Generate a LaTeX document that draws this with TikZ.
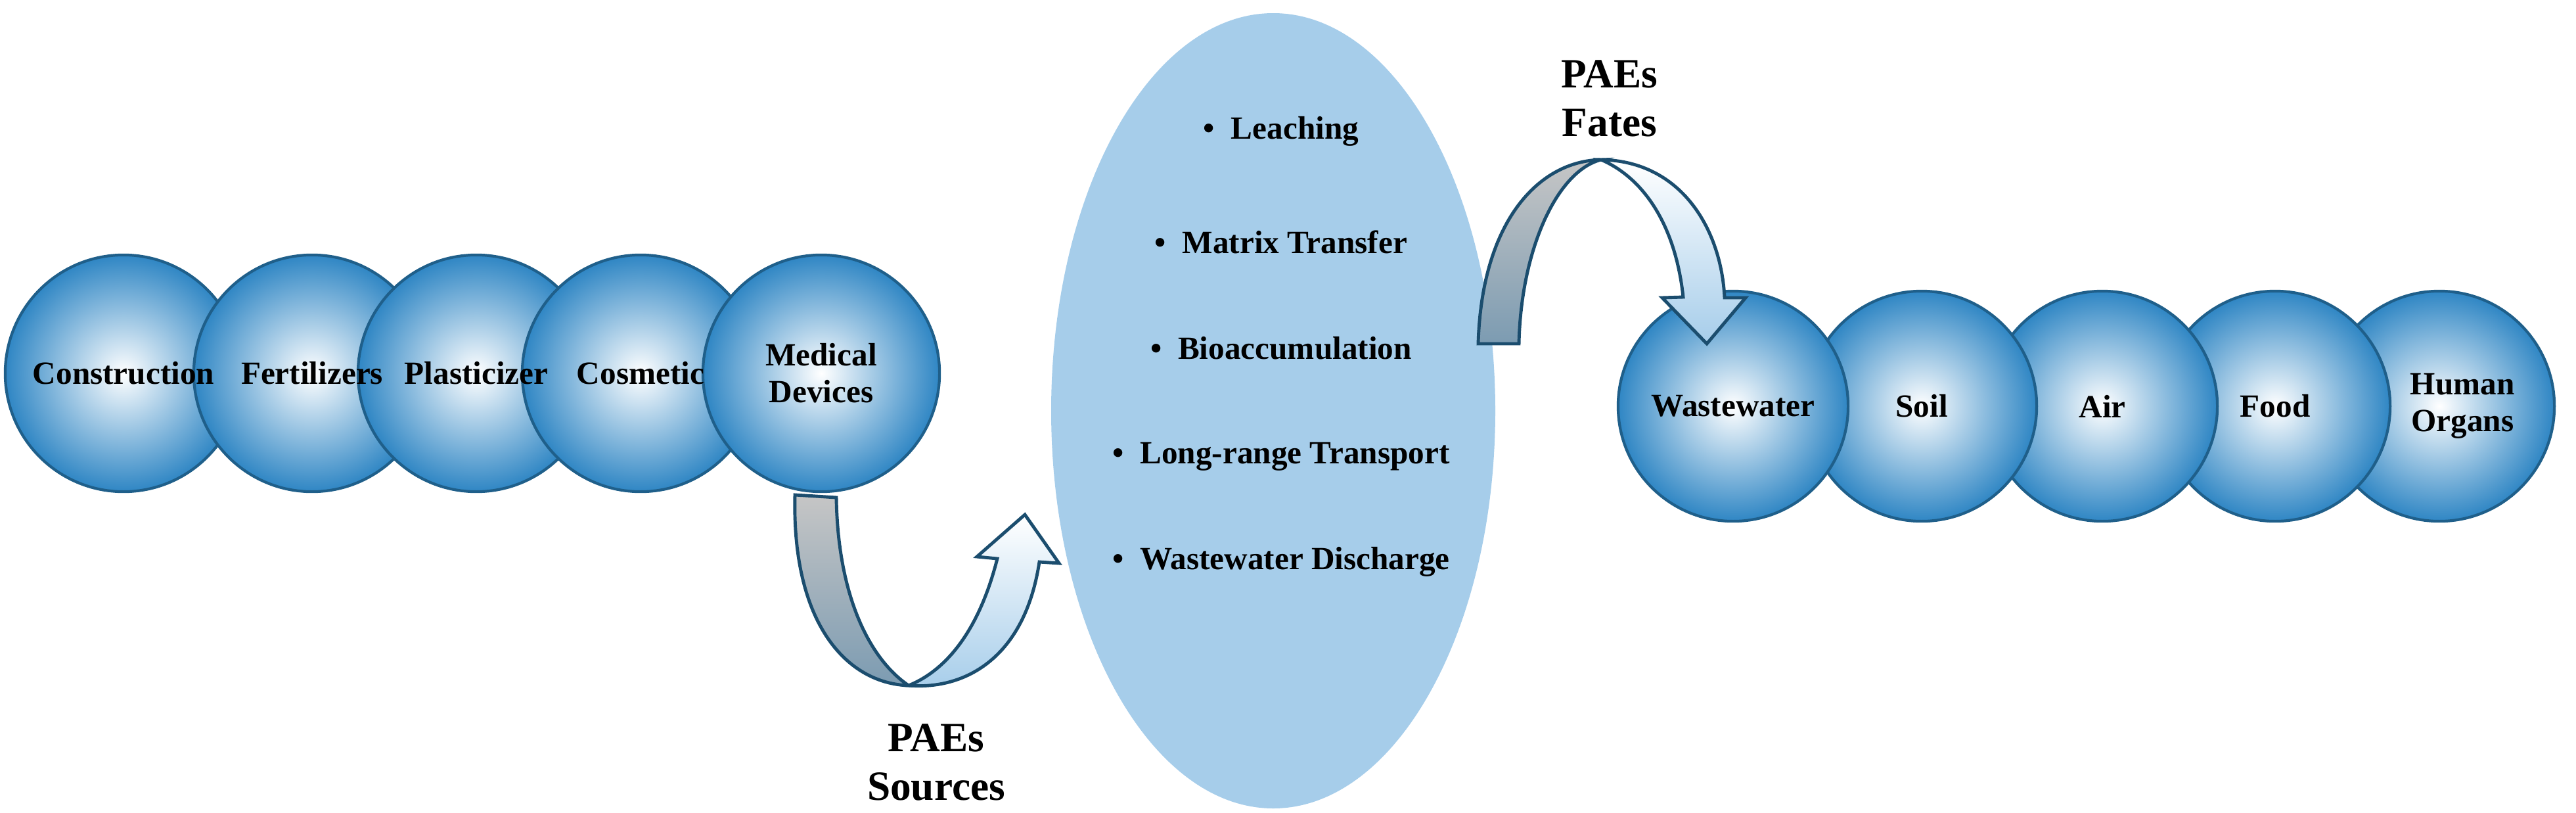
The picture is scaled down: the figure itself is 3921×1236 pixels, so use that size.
\documentclass[tikz,border=0pt]{standalone}
\usepackage{fontspec}
\setmainfont{Liberation Serif}
\usetikzlibrary{positioning}
\definecolor{ballEdge}{HTML}{1F5F8A}
\definecolor{ballBlue}{HTML}{2F86C4}
\definecolor{cloudBlue}{HTML}{A6CDEA}
\definecolor{arrowEdge}{HTML}{1B4D6E}
\begin{document}
\begin{tikzpicture}[x=0.01cm,y=-0.01cm]
\tikzstyle{every node}=[font=\bfseries\fontsize{14}{16}\selectfont]
\tikzstyle{ball}=[circle,minimum size=3.6cm,draw=ballEdge,line width=1.2pt,inner sep=0pt,
  shading=radial,inner color=white,outer color=ballBlue]
\tikzstyle{item}=[align=center,inner sep=1pt]
\tikzstyle{band}=[draw=arrowEdge,line width=1.4pt,line join=miter]
\useasboundingbox (0,0) rectangle (3921,1236);

% cloud of processes
\fill[cloudBlue] (1938,625) ellipse [x radius=338,y radius=605];
\node[item] (leach) at (1950,200) {\textbullet\ \ Leaching};
\node[item] (matrix) at (1950,368) {\textbullet\ \ Matrix Transfer};
\node[item] (bio) at (1950,530) {\textbullet\ \ Bioaccumulation};
\node[item] (long) at (1950,695) {\textbullet\ \ Long-range Transport};
\node[item] (disch) at (1950,855) {\textbullet\ \ Wastewater Discharge};

% sources
\node[ball] (constr) at (188,568) {};
\node[ball] (fert) at (475,568) {};
\node[ball] (plast) at (725,568) {};
\node[ball] (cosm) at (975,568) {};
\node[ball] (med) at (1250,568) {};
\node[item] at (constr) {Construction};
\node[item] at (fert) {Fertilizers};
\node[item] at (plast) {Plasticizer};
\node[item] at (cosm) {Cosmetic};
\node[item] at (med) {Medical\\Devices};

% fates
\node[ball,minimum size=3.5cm] (organs) at (3713,618) {};
\node[ball,minimum size=3.5cm] (food) at (3463,618) {};
\node[ball,minimum size=3.5cm] (air) at (3200,618) {};
\node[ball,minimum size=3.5cm] (soil) at (2925,618) {};
\node[ball,minimum size=3.5cm] (waste) at (2638,618) {};
\node[item] at (waste) {Wastewater};
\node[item] at (soil) {Soil};
\node[item] at (air) {Air};
\node[item] at (food) {Food};
\node[item] at ([xshift=10]organs.center) {Human\\Organs};

% sources arrow
\draw[band,top color=gray!45,bottom color=ballBlue!45!gray!80] (1210,753) .. controls (1205,950) and (1290,1040) .. (1383,1043)
  .. controls (1320,1000) and (1275,900) .. (1273,757) -- cycle;
\draw[band,top color=white,bottom color=cloudBlue] (1383,1043) .. controls (1470,1050) and (1560,1000) .. (1582,855)
  -- (1612,857) -- (1560,783) -- (1487,847) -- (1518,850) .. controls (1490,960) and (1440,1020) .. (1383,1043) -- cycle;
\node[item,font=\bfseries\fontsize{18}{21}\selectfont] (src) at (1425,1160) {PAEs\\Sources};

% fates arrow
\draw[band,top color=gray!45,bottom color=ballBlue!45!gray!80] (2250,523) .. controls (2255,340) and (2340,245) .. (2437,243)
  .. controls (2370,260) and (2315,380) .. (2312,523) -- cycle;
\draw[band,top color=white,bottom color=cloudBlue] (2437,243) .. controls (2560,245) and (2620,350) .. (2625,453)
  -- (2657,453) -- (2598,523) -- (2530,453) -- (2562,452) .. controls (2550,340) and (2500,270) .. (2437,243) -- cycle;
\node[item,font=\bfseries\fontsize{18}{21}\selectfont] (fate) at (2450,150) {PAEs\\Fates};
\end{tikzpicture}
\end{document}
